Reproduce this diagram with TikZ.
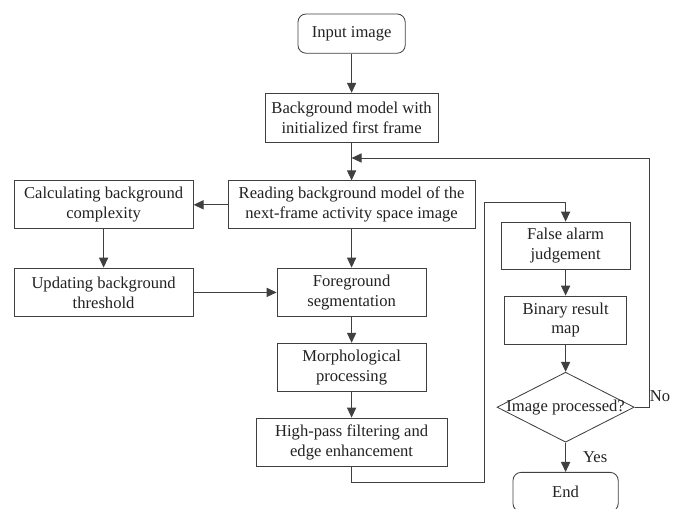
\documentclass[tikz,border=0pt]{standalone}
\usepackage{fontspec}
\setmainfont{Liberation Serif}
\usetikzlibrary{arrows.meta, positioning, shapes.geometric, calc}
\definecolor{lncolor}{HTML}{404040}
\definecolor{txcolor}{HTML}{222222}

\begin{document}
\begin{tikzpicture}[
  every node/.style={font=\fontsize{11.8}{14.2}\selectfont, text=txcolor},
  box/.style={rectangle, draw=lncolor, line width=0.6pt, align=center, inner sep=1pt},
  term/.style={box, rounded corners=0.2cm},
  decision/.style={diamond, draw=lncolor, line width=0.6pt, inner sep=0pt, minimum width=3.43cm, minimum height=1.75cm},
  arr/.style={draw=lncolor, line width=0.6pt, -{Triangle[length=0.25cm, width=0.23cm]}},
]
\useasboundingbox (0,0) rectangle (17.175,-12.7);
% main column
\node[term, minimum width=2.68cm, minimum height=0.98cm] (input) at (8.79,-0.84) {Input image};
\node[box, minimum width=4.33cm, minimum height=1.22cm] (bgm) at (8.79,-2.94) {Background model with\\initialized first frame};
\node[box, minimum width=6.18cm, minimum height=1.2cm] (read) at (8.79,-5.12) {Reading background model of the\\next-frame activity space image};
\node[box, minimum width=3.73cm, minimum height=1.22cm] (fg) at (8.79,-7.31) {Foreground\\segmentation};
\node[box, minimum width=3.73cm, minimum height=1.2cm] (morph) at (8.79,-9.18) {Morphological\\processing};
\node[box, minimum width=4.78cm, minimum height=1.2cm] (hp) at (8.79,-11.05) {High-pass filtering and\\edge enhancement};
% left column
\node[box, minimum width=4.48cm, minimum height=1.2cm] (calc) at (2.59,-5.12) {Calculating background\\complexity};
\node[box, minimum width=4.48cm, minimum height=1.22cm] (upd) at (2.59,-7.31) {Updating background\\threshold};
% right column
\node[box, minimum width=3.23cm, minimum height=1.18cm] (fa) at (14.14,-6.14) {False alarm\\judgement};
\node[box, minimum width=3.05cm, minimum height=1.2cm] (bin) at (14.14,-8.0) {Binary result\\map};
\node[decision] (dec) at (14.14,-10.18) {};
\node (dectxt) at (dec) {Image processed?};
\node[term, minimum width=2.63cm, minimum height=0.98cm] (end) at (14.14,-12.3) {End};
\node (no) at (16.5,-9.9) {No};
\node (yes) at (14.88,-11.43) {Yes};
\coordinate (fb) at (16.23,-3.95);
\coordinate (lp1) at (12.1,-12.05);
\coordinate (lp2) at (12.1,-5.05);

\draw[arr] (input) -- (bgm);
\draw[arr] (bgm) -- (read);
\draw[arr] (read) -- (fg);
\draw[arr] (fg) -- (morph);
\draw[arr] (morph) -- (hp);
\draw[arr] (read.west) -- (calc.east);
\draw[arr] (calc) -- (upd);
\draw[arr] (upd.east) -- (fg.west);
\draw[arr] (hp.south) |- (lp1) -- (lp2) -| (fa.north);
\draw[arr] (fa) -- (bin);
\draw[arr] (bin) -- (dec.north);
\draw[arr] (dec.south) -- (end);
\draw[arr] (dec.east) -| (fb) -- (bgm.south |- fb);
\end{tikzpicture}
\end{document}
